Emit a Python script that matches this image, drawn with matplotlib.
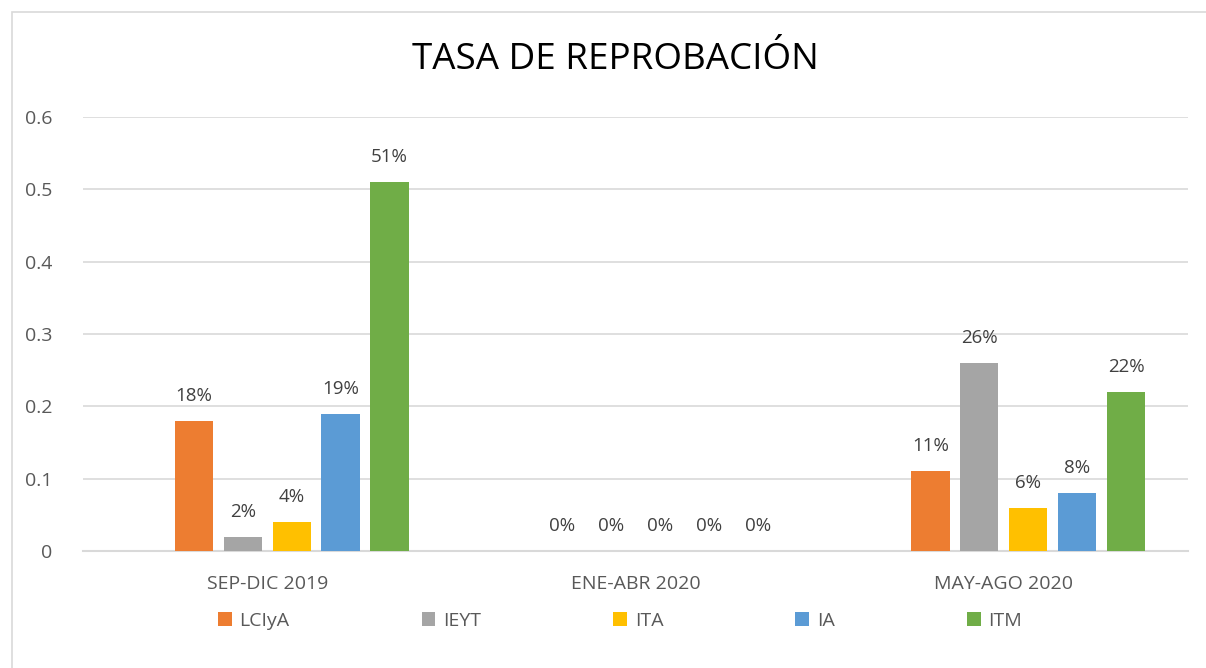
import matplotlib.pyplot as plt
import numpy as np
from matplotlib.patches import Rectangle

plt.rcParams['font.family'] = ['Open Sans', 'DejaVu Sans']

# Data
periods = ["SEP-DIC 2019", "ENE-ABR 2020", "MAY-AGO 2020"]
series_names = ["LCIyA", "IEYT", "ITA", "IA", "ITM"]
lciya = [0.18, 0.0, 0.11]
ieyt = [0.02, 0.0, 0.26]
ita = [0.04, 0.0, 0.06]
ia = [0.19, 0.0, 0.08]
itm = [0.51, 0.0, 0.22]
colors = ["#ED7D31", "#A5A5A5", "#FFC000", "#5B9BD5", "#70AD47"]

values = [lciya, ieyt, ita, ia, itm]

fig = plt.figure(figsize=(12.06, 6.68), dpi=100)
ax = fig.add_axes([83 / 1206, 1 - 551 / 668, 1105 / 1206, 434 / 668])

# Chart border like the Excel frame
fig.patches.append(Rectangle((12 / 1206, -0.1), 1.2, 1 - 12 / 668 + 0.1,
                             transform=fig.transFigure, fill=False,
                             edgecolor="#D9D9D9", linewidth=1.2))

x = np.arange(len(periods))
step = 0.133
width = 0.104
# bars sit as if a sixth (empty) series came first in each group
for i, (name, vals, c) in enumerate(zip(series_names, values, colors)):
    bars = ax.bar(x + (i - 1.5) * step, vals, width, color=c, label=name, zorder=3)
    for b, v in zip(bars, vals):
        ax.annotate(f"{v:.0%}", (b.get_x() + b.get_width() / 2, v),
                    xytext=(0, 25), textcoords="offset pixels",
                    ha="center", va="center", fontsize=13.5, color="#404040")

ax.set_xlim(-0.5, 2.5)
ax.set_ylim(0, 0.6)
ax.set_yticks([0, 0.1, 0.2, 0.3, 0.4, 0.5, 0.6])
ax.set_yticklabels(["0", "0.1", "0.2", "0.3", "0.4", "0.5", "0.6"])
ax.set_xticks(x)
ax.set_xticklabels(periods)
ax.tick_params(axis="both", length=0, labelsize=14, labelcolor="#595959")
ax.tick_params(axis="y", pad=22)
ax.tick_params(axis="x", pad=17)
ax.grid(axis="y", color="#D9D9D9", linewidth=1.2, zorder=0)
for s in ["top", "right", "left"]:
    ax.spines[s].set_visible(False)
ax.spines["bottom"].set_color("#D9D9D9")
ax.spines["bottom"].set_linewidth(1.5)

fig.text(615 / 1206, 1 - 60 / 668, "TASA DE REPROBACIÓN", ha="center", va="center",
         fontsize=26.5, color="#000000")

fig.legend(loc="center", bbox_to_anchor=(620 / 1206, 1 - 621 / 668), ncol=5,
           frameon=False, fontsize=14, handlelength=0.7, handleheight=0.7,
           handletextpad=0.4, columnspacing=6.8, labelcolor="#595959")

fig.savefig("out.png", dpi=100)
